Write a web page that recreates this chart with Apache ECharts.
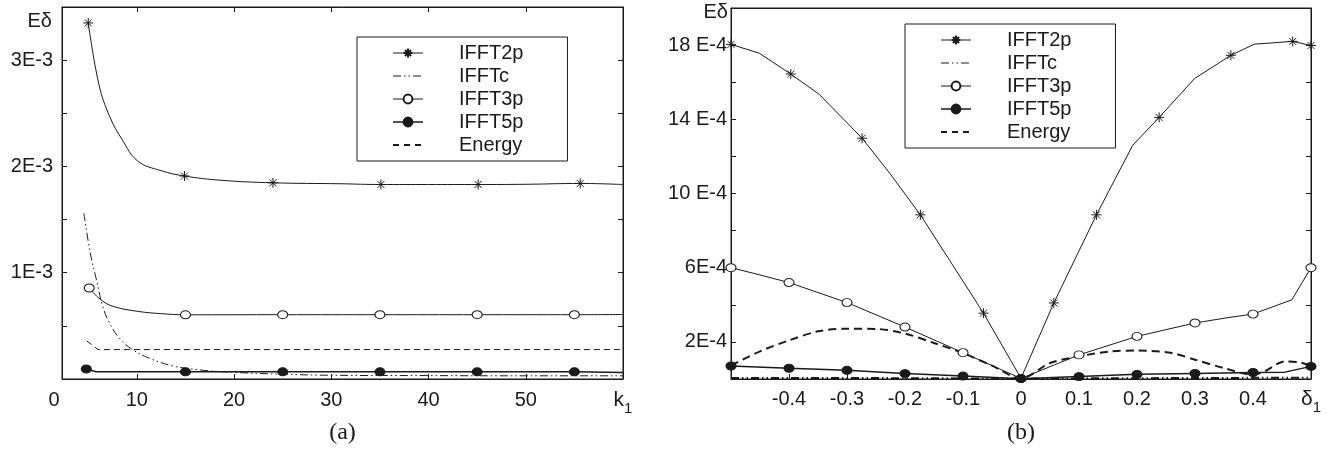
<!DOCTYPE html>
<html>
<head>
<meta charset="utf-8">
<script src="https://cdn.jsdelivr.net/npm/echarts@6/dist/echarts.min.js"></script>
<style>html,body{margin:0;padding:0;background:#fff;}#c{width:1327px;height:455px;}</style>
</head>
<body>
<div id="c"></div>
<script>
// ---------- Panel (a): error vs k1 (values in units of E-3) ----------
const a_IFFT2p_k = [5, 6.1, 7.2, 8.5, 10.1, 12.5, 14.9, 18.6, 24, 30.9, 35.1, 40, 45.1, 50, 55.6, 60];
const a_IFFT2p_v = [3.35, 2.77, 2.47, 2.25, 2.05, 1.96, 1.91, 1.87, 1.846, 1.837, 1.83, 1.83, 1.83, 1.832, 1.84, 1.83];
const a_IFFT2p_marks = [5, 14.9, 24, 35.1, 45.1, 55.6];

const a_IFFTc_k = [4.55, 5.2, 5.85, 6.5, 7.2, 8.2, 9.6, 11.3, 13.7, 16.5, 19.9, 25, 30, 40, 50, 60];
const a_IFFTc_v = [1.56, 1.19, 0.93, 0.68, 0.525, 0.384, 0.274, 0.195, 0.123, 0.085, 0.063, 0.045, 0.035, 0.032, 0.03, 0.03];

const a_IFFT3p_k = [5.1, 6.3, 7.6, 10.2, 12.5, 15, 25, 35, 45, 55, 60];
const a_IFFT3p_v = [0.856, 0.745, 0.682, 0.635, 0.615, 0.604, 0.605, 0.605, 0.605, 0.605, 0.607];
const a_IFFT3p_marks = [5.1, 15, 25, 35, 45, 55];

const a_IFFT5p_k = [4.8, 5.8, 15, 25, 35, 45, 55, 60];
const a_IFFT5p_v = [0.094, 0.068, 0.068, 0.068, 0.068, 0.068, 0.068, 0.062];
const a_IFFT5p_marks = [4.8, 15, 25, 35, 45, 55];

const a_Energy_k = [4.85, 6, 60];
const a_Energy_v = [0.358, 0.277, 0.277];

const a_xLabels = [2.3, 10, 20, 30, 40, 50, 60];   // 2.3 -> "0", 60 -> "k1"
const a_xTicks = [10, 20, 30, 40, 50];

// ---------- Panel (b): error vs delta1 (values in units of E-4) ----------
const b_IFFT2p_d = [-0.5, -0.451, -0.397, -0.348, -0.274, -0.2265, -0.1735, -0.1235, -0.0647, 0, 0.0566, 0.1301, 0.1926, 0.2382, 0.2993, 0.3618, 0.4022, 0.4684, 0.5];
const b_IFFT2p_v = [18.04, 17.56, 16.44, 15.35, 12.98, 11.1, 8.85, 6.42, 3.55, 0.04, 4.1, 8.85, 12.6, 14.1, 16.2, 17.45, 18.05, 18.2, 17.98];
const b_IFFT2p_marks = [-0.5, -0.397, -0.274, -0.1735, -0.0647, 0.0566, 0.1301, 0.2382, 0.3618, 0.4684, 0.5];

const b_IFFTc_d = [-0.5, -0.25, 0, 0.25, 0.5];
const b_IFFTc_v = [0.06, 0.05, 0.02, 0.05, 0.07];

const b_IFFT3p_d = [-0.5, -0.455, -0.4, -0.3, -0.2, -0.1, 0, 0.1, 0.2, 0.3, 0.355, 0.4, 0.467, 0.5];
const b_IFFT3p_v = [6.0, 5.65, 5.2, 4.12, 2.8, 1.42, 0.03, 1.3, 2.3, 3.02, 3.3, 3.5, 4.27, 6.0];
const b_IFFT3p_marks = [-0.5, -0.4, -0.3, -0.2, -0.1, 0, 0.1, 0.2, 0.3, 0.4, 0.5];

const b_IFFT5p_d = [-0.5, -0.4, -0.3, -0.2, -0.1, 0, 0.1, 0.2, 0.3, 0.4, 0.455, 0.5];
const b_IFFT5p_v = [0.7, 0.58, 0.47, 0.29, 0.16, 0.02, 0.13, 0.25, 0.3, 0.35, 0.37, 0.68];
const b_IFFT5p_marks = [-0.5, -0.4, -0.3, -0.2, -0.1, 0, 0.1, 0.2, 0.3, 0.4, 0.5];

const b_Energy_d = [-0.5, -0.45, -0.4, -0.35, -0.3, -0.25, -0.2, -0.15, -0.1, -0.05, 0, 0.05, 0.1, 0.155, 0.2, 0.26, 0.3, 0.35, 0.4, 0.42, 0.455, 0.48, 0.5];
const b_Energy_v = [0.73, 1.49, 2.08, 2.57, 2.71, 2.70, 2.45, 1.94, 1.4, 0.72, 0.03, 0.86, 1.22, 1.49, 1.53, 1.40, 1.04, 0.59, 0.23, 0.41, 0.95, 0.9, 0.72];

const b_xLabels = [-0.4, -0.3, -0.2, -0.1, 0, 0.1, 0.2, 0.3, 0.4, 0.5];  // 0.5 -> "δ1"
const b_xTicks = [-0.4, -0.3, -0.2, -0.1, 0, 0.1, 0.2, 0.3, 0.4];

const seriesNames = ['IFFT2p', 'IFFTc', 'IFFT3p', 'IFFT5p', 'Energy'];

// ---------- helpers ----------
const INK = '#1a1a1a';
const FONT = 'Liberation Sans';
const STAR = 'path://M10,0L10,20M0,10L20,10M3,3L17,17M3,17L17,3';
const DASHDOT = [8, 3, 1.5, 3, 1.5, 3];

function build(xs, ys, unit, marks) {
  return xs.map((x, i) => {
    const it = { value: [x, ys[i] * unit] };
    if (marks && marks.indexOf(x) < 0) it.symbol = 'none';
    return it;
  });
}

const styles = {
  IFFT2p: { symbol: STAR, symbolSize: 10, itemStyle: { color: INK, borderColor: INK, borderWidth: 1 }, lineStyle: { color: INK, width: 1 } },
  IFFTc: { symbol: 'none', lineStyle: { color: INK, width: 1, type: DASHDOT } },
  IFFT3p: { symbol: 'circle', symbolSize: [10, 8], itemStyle: { color: '#fff', borderColor: INK, borderWidth: 1 }, lineStyle: { color: INK, width: 1 } },
  IFFT5p: { symbol: 'circle', symbolSize: [10, 8], itemStyle: { color: INK, borderColor: INK, borderWidth: 1 }, lineStyle: { color: INK, width: 1.5 } },
  Energy: { symbol: 'none', lineStyle: { color: INK, width: 1, type: [6, 4] } }
};

function mkSeries(name, xi, yi, data, extra) {
  return Object.assign({
    name, type: 'line', xAxisIndex: xi, yAxisIndex: yi, data,
    showSymbol: true, showAllSymbol: true, animation: false, silent: true,
    emphasis: { disabled: true }
  }, JSON.parse(JSON.stringify(styles[name])), extra || {});
}

const A = 1e-3, B = 1e-4;
const series = [
  mkSeries('IFFT2p', 0, 0, build(a_IFFT2p_k, a_IFFT2p_v, A, a_IFFT2p_marks), { smooth: 0.4 }),
  mkSeries('IFFTc', 0, 0, build(a_IFFTc_k, a_IFFTc_v, A), { smooth: 0.4 }),
  mkSeries('IFFT3p', 0, 0, build(a_IFFT3p_k, a_IFFT3p_v, A, a_IFFT3p_marks), { smooth: 0.4 }),
  mkSeries('IFFT5p', 0, 0, build(a_IFFT5p_k, a_IFFT5p_v, A, a_IFFT5p_marks)),
  mkSeries('Energy', 0, 0, build(a_Energy_k, a_Energy_v, A)),

  mkSeries('IFFT2p', 2, 2, build(b_IFFT2p_d, b_IFFT2p_v, B, b_IFFT2p_marks)),
  mkSeries('IFFTc', 2, 2, build(b_IFFTc_d, b_IFFTc_v, B), { lineStyle: { color: INK, width: 2, type: DASHDOT } }),
  mkSeries('IFFT3p', 2, 2, build(b_IFFT3p_d, b_IFFT3p_v, B, b_IFFT3p_marks)),
  mkSeries('IFFT5p', 2, 2, build(b_IFFT5p_d, b_IFFT5p_v, B, b_IFFT5p_marks)),
  mkSeries('Energy', 2, 2, build(b_Energy_d, b_Energy_v, B), { smooth: 0.3, lineStyle: { color: INK, width: 2, type: [8, 5] } })
];

const labelStyle = { color: INK, fontFamily: FONT, fontSize: 20 };
const subRich = {
  k: { color: INK, fontFamily: FONT, fontSize: 21, lineHeight: 26, verticalAlign: 'top' },
  s: { color: INK, fontFamily: FONT, fontSize: 15, lineHeight: 15, verticalAlign: 'bottom' },
  z: { color: INK, fontFamily: FONT, fontSize: 20, padding: [0, 16, 0, 0] }
};

const legendLine = { IFFT2p: { width: 1 }, IFFTc: { width: 1, type: DASHDOT }, IFFT3p: { width: 1 }, IFFT5p: { width: 1.5 }, Energy: { width: 2, type: [6, 5] } };
function legendData() {
  return seriesNames.map(n => {
    const d = { name: n, lineStyle: legendLine[n] };
    if (n === 'IFFTc' || n === 'Energy') d.itemStyle = { opacity: 0 };
    return d;
  });
}
function mkLegend(left, top) {
  return {
    left, top, orient: 'vertical', selectedMode: false,
    itemWidth: 30, itemHeight: 11, itemGap: 3,
    padding: [6, 44, 6, 35],
    borderColor: INK, borderWidth: 1, backgroundColor: '#fff',
    textStyle: { color: INK, fontFamily: FONT, fontSize: 20, lineHeight: 20, padding: [0, 0, 0, 31] },
    data: legendData()
  };
}

const tickIn = (len) => ({ show: true, inside: true, length: len, lineStyle: { color: INK, width: 1 } });
const lineOn = { show: true, onZero: false, lineStyle: { color: INK, width: 1 } };

const option = {
  backgroundColor: '#fff',
  animation: false,
  grid: [
    { left: 62, top: 7, width: 561, height: 372, show: true, borderColor: INK, borderWidth: 1, backgroundColor: 'transparent', outerBoundsMode: 'none', containLabel: false },
    { left: 731, top: 8, width: 580, height: 371, show: true, borderColor: INK, borderWidth: 1, backgroundColor: 'transparent', outerBoundsMode: 'none', containLabel: false }
  ],
  legend: [mkLegend(357, 37), mkLegend(905, 24)],
  xAxis: [
    { gridIndex: 0, type: 'value', position: 'bottom', min: 2.3, max: 60,
      axisLine: lineOn, splitLine: { show: false },
      axisTick: Object.assign(tickIn(5), { customValues: a_xTicks }),
      axisLabel: Object.assign({}, labelStyle, { margin: 11, customValues: a_xLabels, rich: subRich,
        formatter: v => (v < 5 ? '{z|0}' : (v >= 60 ? '{k|k}{s|1}' : String(Math.round(v)))) }),
      name: '(a)', nameLocation: 'middle', nameGap: 42,
      nameTextStyle: { color: INK, fontFamily: 'Liberation Serif', fontSize: 24 } },
    { gridIndex: 0, type: 'value', position: 'top', min: 2.3, max: 60,
      axisLine: lineOn, splitLine: { show: false },
      axisTick: Object.assign(tickIn(5), { customValues: a_xTicks }),
      axisLabel: { show: false } },
    { gridIndex: 1, type: 'value', position: 'bottom', min: -0.5, max: 0.5,
      axisLine: lineOn, splitLine: { show: false },
      axisTick: Object.assign(tickIn(5), { customValues: b_xTicks }),
      axisLabel: Object.assign({}, labelStyle, { margin: 10, customValues: b_xLabels, rich: subRich,
        formatter: v => (v >= 0.5 ? '{k|δ}{s|1}' : (Math.abs(v) < 1e-9 ? '0' : (Math.round(v * 10) / 10).toFixed(1))) }),
      name: '(b)', nameLocation: 'middle', nameGap: 42,
      nameTextStyle: { color: INK, fontFamily: 'Liberation Serif', fontSize: 24 } },
    { gridIndex: 1, type: 'value', position: 'top', min: -0.5, max: 0.5,
      axisLine: lineOn, splitLine: { show: false },
      axisTick: { show: false }, axisLabel: { show: false } }
  ],
  yAxis: [
    { gridIndex: 0, type: 'value', position: 'left', min: 0, max: 3.5e-3, interval: 0.5e-3,
      axisLine: lineOn, splitLine: { show: false }, axisTick: tickIn(5),
      axisLabel: Object.assign({}, labelStyle, { margin: 9,
        formatter: v => { const n = Math.round(v * 2e3) / 2; return (n > 0 && Number.isInteger(n)) ? n + 'E-3' : ''; } }),
      name: 'Eδ', nameLocation: 'end', nameGap: -14,
      nameTextStyle: { color: INK, fontFamily: FONT, fontSize: 20, align: 'right', verticalAlign: 'middle', padding: [0, 10, 0, 0] } },
    { gridIndex: 0, type: 'value', position: 'right', min: 0, max: 3.5e-3, interval: 0.5e-3,
      axisLine: lineOn, splitLine: { show: false }, axisTick: tickIn(5), axisLabel: { show: false } },
    { gridIndex: 1, type: 'value', position: 'left', min: 0, max: 20e-4, interval: 2e-4,
      axisLine: lineOn, splitLine: { show: false }, axisTick: tickIn(5),
      axisLabel: Object.assign({}, labelStyle, { margin: 4,
        formatter: v => { const n = Math.round(v * 1e4); return (n % 4 === 2) ? (n >= 10 ? n + ' E-4' : n + 'E-4') : ''; } }),
      name: 'Eδ', nameLocation: 'end', nameGap: -4,
      nameTextStyle: { color: INK, fontFamily: FONT, fontSize: 20, align: 'right', verticalAlign: 'middle', padding: [0, 3, 0, 0] } },
    { gridIndex: 1, type: 'value', position: 'right', min: 0, max: 20e-4, interval: 2e-4,
      axisLine: lineOn, splitLine: { show: false }, axisTick: tickIn(5), axisLabel: { show: false } }
  ],
  series
};

const chart = echarts.init(document.getElementById('c'), null, { renderer: 'canvas' });
chart.setOption(option);
</script>
</body>
</html>
